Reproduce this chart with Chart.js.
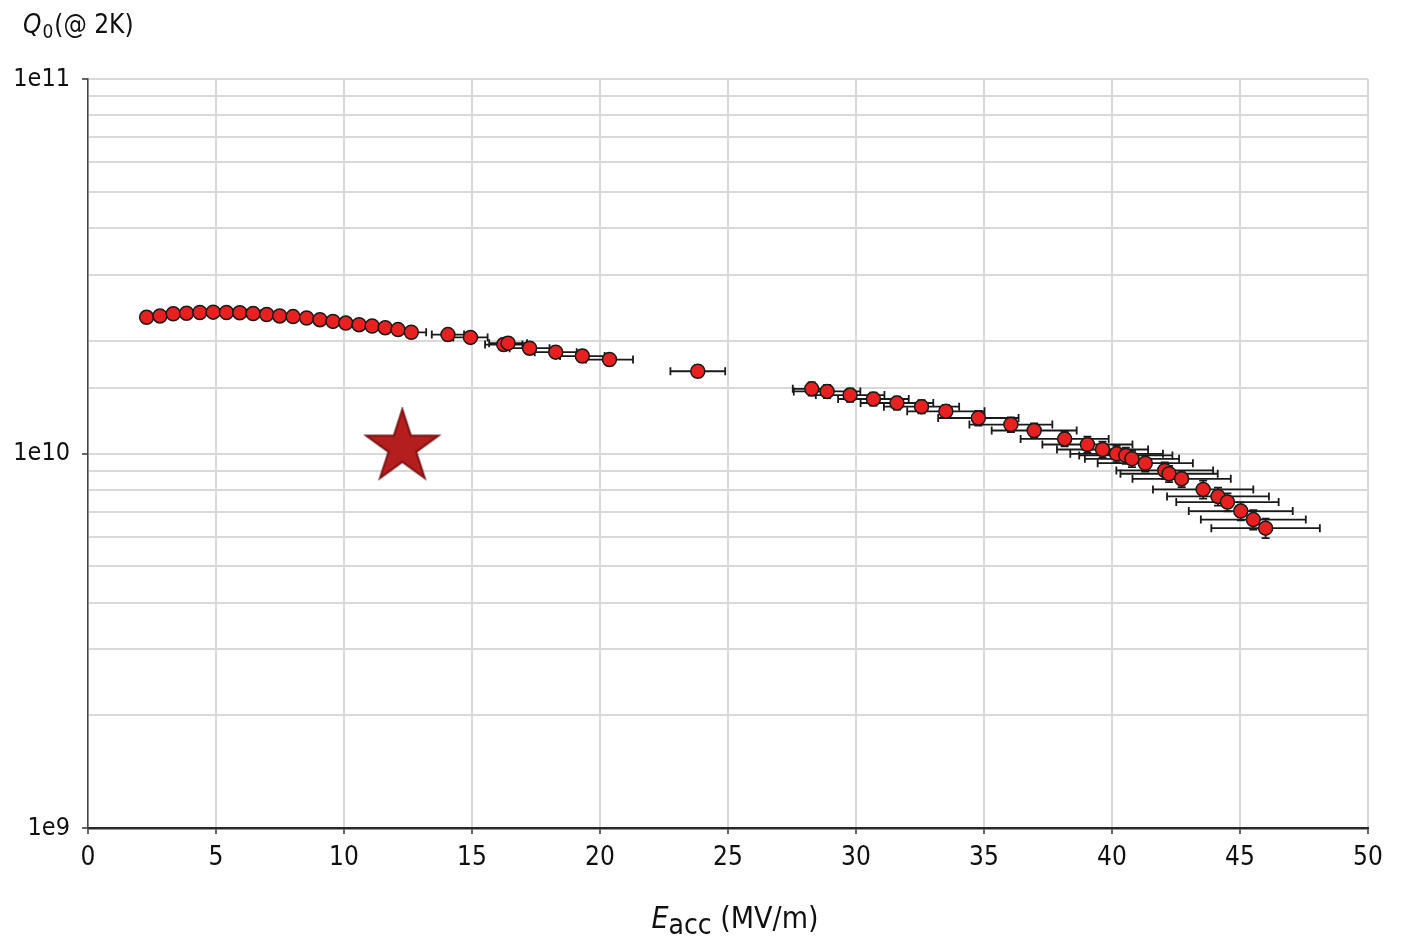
<!DOCTYPE html>
<html>
<head>
<meta charset="utf-8">
<title>Q0 vs Eacc</title>
<script src="https://cdn.jsdelivr.net/npm/chart.js@4.4.1/dist/chart.umd.min.js"></script>
<style>
    html, body { margin: 0; padding: 0; background: #ffffff; }
    #wrap { width: 1407px; height: 940px; }
</style>
</head>
<body>
<div id="wrap"><canvas id="q0-chart" width="1407" height="940"></canvas></div>
<script>
const FONT = "'Liberation Sans Narrow', 'DejaVu Sans Condensed', 'Open Sans', sans-serif";

// Accelerating gradient (MV/m)
const eacc = [
    2.29, 2.81, 3.33, 3.85, 4.37, 4.89, 5.41, 5.93, 6.45, 6.98, 7.49, 8.01, 8.54, 9.06, 9.57,
    10.07, 10.59, 11.10, 11.61, 12.11, 12.63,
    14.06, 14.94, 16.24, 16.41, 17.25, 18.27, 19.31, 20.37, 23.82,
    28.27, 28.87, 29.77, 30.68, 31.60, 32.56, 33.51, 34.78, 36.05, 36.96, 38.15,
    39.04, 39.63, 40.18, 40.54, 40.78, 41.30, 42.06, 42.23, 42.72, 43.56, 44.14, 44.51, 45.03, 45.52, 46.00
];
// Quality factor at 2K
const q0 = [
    2.31e10, 2.33e10, 2.36e10, 2.37e10, 2.38e10, 2.385e10, 2.38e10, 2.377e10, 2.365e10, 2.35e10,
    2.33e10, 2.32e10, 2.30e10, 2.277e10, 2.253e10, 2.23e10, 2.208e10, 2.19e10, 2.168e10, 2.142e10, 2.107e10,
    2.077e10, 2.042e10, 1.954e10, 1.971e10, 1.911e10, 1.865e10, 1.82e10, 1.782e10, 1.658e10,
    1.488e10, 1.465e10, 1.432e10, 1.398e10, 1.364e10, 1.334e10, 1.296e10, 1.244e10, 1.195e10, 1.152e10, 1.094e10,
    1.057e10, 1.025e10, 9.98e9, 9.88e9, 9.68e9, 9.42e9, 9.01e9, 8.83e9, 8.56e9, 8.02e9, 7.68e9, 7.42e9,
    7.02e9, 6.66e9, 6.32e9
];
// Horizontal error (MV/m, +/-)
const eaccErr = [
    0.11, 0.13, 0.15, 0.17, 0.20, 0.22, 0.24, 0.27, 0.29, 0.31, 0.34, 0.36, 0.38, 0.41, 0.43,
    0.45, 0.48, 0.50, 0.52, 0.55, 0.58,
    0.63, 0.67, 0.73, 0.74, 0.78, 0.82, 0.87, 0.92, 1.07,
    0.74, 1.30, 1.34, 1.38, 1.42, 1.47, 1.51, 1.57, 1.62, 1.66, 1.72,
    1.76, 1.78, 1.81, 1.82, 1.84, 1.86, 1.89, 1.90, 1.92, 1.96, 1.99, 2.00, 2.03, 2.05, 2.12
];
// Vertical error, relative (+/-)
const q0ErrRel = [
    0.03, 0.03, 0.03, 0.03, 0.03, 0.03, 0.03, 0.03, 0.03, 0.03, 0.03, 0.03, 0.03, 0.03, 0.03,
    0.03, 0.03, 0.03, 0.03, 0.03, 0.03,
    0.035, 0.035, 0.035, 0.035, 0.035, 0.035, 0.035, 0.035, 0.035,
    0.04, 0.04, 0.04, 0.04, 0.04, 0.04, 0.04, 0.045, 0.045, 0.045, 0.045,
    0.05, 0.05, 0.05, 0.05, 0.05, 0.05, 0.05, 0.05, 0.05, 0.055, 0.055, 0.055, 0.055, 0.06, 0.06
];
// Single reference point (star)
const starEacc = [12.28];
const starQ0 = [1.038e10];

const xTickStep = 5;
const decadeLabels = { 9: "1e9", 10: "1e10", 11: "1e11" };

function isDecade(v) {
    const l = Math.log10(v);
    return Math.abs(l - Math.round(l)) < 1e-9;
}

// filled five-point star used as the point style
function makeStar(outer, inner, fill, stroke) {
    const size = Math.ceil(outer * 2 + 4);
    const cv = document.createElement("canvas");
    cv.width = size;
    cv.height = size;
    const g = cv.getContext("2d");
    const c = size / 2;
    g.beginPath();
    for (let k = 0; k < 10; k++) {
        const r = k % 2 === 0 ? outer : inner;
        const a = -Math.PI / 2 + (k * Math.PI) / 5;
        const px = c + r * Math.cos(a);
        const py = c + r * Math.sin(a);
        if (k === 0) g.moveTo(px, py); else g.lineTo(px, py);
    }
    g.closePath();
    g.fillStyle = fill;
    g.fill();
    g.lineWidth = 2;
    g.strokeStyle = stroke;
    g.stroke();
    return cv;
}

const errorBars = {
    id: "errorBars",
    beforeDatasetsDraw(chart) {
        const { ctx } = chart;
        const xs = chart.scales.x;
        const ys = chart.scales.y;
        const cap = 4;
        ctx.save();
        ctx.strokeStyle = "#1a1a1a";
        ctx.lineWidth = 1.8;
        eacc.forEach((e, i) => {
            const px = xs.getPixelForValue(e);
            const py = ys.getPixelForValue(q0[i]);
            const l = xs.getPixelForValue(e - eaccErr[i]);
            const r = xs.getPixelForValue(e + eaccErr[i]);
            const t = ys.getPixelForValue(q0[i] * (1 + q0ErrRel[i]));
            const b = ys.getPixelForValue(q0[i] * (1 - q0ErrRel[i]));
            ctx.beginPath();
            ctx.moveTo(l, py); ctx.lineTo(r, py);
            ctx.moveTo(l, py - cap); ctx.lineTo(l, py + cap);
            ctx.moveTo(r, py - cap); ctx.lineTo(r, py + cap);
            ctx.moveTo(px, t); ctx.lineTo(px, b);
            ctx.moveTo(px - cap, t); ctx.lineTo(px + cap, t);
            ctx.moveTo(px - cap, b); ctx.lineTo(px + cap, b);
            ctx.stroke();
        });
        ctx.restore();
    },
};

// axis titles with italic symbol and subscript
const axisTitles = {
    id: "axisTitles",
    afterDraw(chart) {
        const { ctx } = chart;
        ctx.save();
        ctx.fillStyle = "#111";
        ctx.textBaseline = "alphabetic";
        ctx.textAlign = "left";

        // y title: Q0(@ 2K)
        let x = 23;
        ctx.font = "italic 26px " + FONT;
        ctx.fillText("Q", x, 33);
        x += ctx.measureText("Q").width + 1;
        ctx.font = "19px " + FONT;
        ctx.fillText("0", x, 38);
        x += ctx.measureText("0").width + 1;
        ctx.font = "26px " + FONT;
        ctx.fillText("(@ 2K)", x, 33);

        // x title: Eacc (MV/m)
        const cx = 735;
        ctx.font = "italic 30px " + FONT;
        const wE = ctx.measureText("E").width;
        ctx.font = "28px " + FONT;
        const wSub = ctx.measureText("acc").width;
        ctx.font = "30px " + FONT;
        const wRest = ctx.measureText(" (MV/m)").width;
        x = cx - (wE + wSub + wRest) / 2;
        ctx.font = "italic 30px " + FONT;
        ctx.fillText("E", x, 928);
        x += wE;
        ctx.font = "28px " + FONT;
        ctx.fillText("acc", x, 934);
        x += wSub;
        ctx.font = "30px " + FONT;
        ctx.fillText(" (MV/m)", x, 928);
        ctx.restore();
    },
};

const chart = new Chart(document.getElementById("q0-chart"), {
    type: "scatter",
    data: {
        datasets: [
            {
                label: "Q0",
                data: eacc.map((e, i) => ({ x: e, y: q0[i] })),
                pointStyle: "circle",
                pointRadius: 7,
                pointHoverRadius: 7,
                backgroundColor: "#e8201f",
                borderColor: "#1a1a1a",
                borderWidth: 1.5,
            },
            {
                label: "reference",
                data: starEacc.map((e, i) => ({ x: e, y: starQ0[i] })),
                pointStyle: makeStar(38, 14.5, "#b41e1e", "#7d1212"),
                pointRadius: 38,
            },
        ],
    },
    options: {
        responsive: false,
        animation: false,
        devicePixelRatio: 1,
        layout: { padding: { top: 79, right: 38, left: 0, bottom: 0 } },
        plugins: {
            legend: { display: false },
            tooltip: { enabled: false },
        },
        scales: {
            x: {
                type: "linear",
                min: 0,
                max: 50,
                afterFit: (s) => { s.height = 112; },
                ticks: {
                    stepSize: xTickStep,
                    color: "#111",
                    font: { family: FONT, size: 26 },
                    padding: 9,
                },
                grid: {
                    color: "#d9d9d9",
                    lineWidth: 2,
                    tickLength: 6,
                    tickColor: "#333",
                    tickWidth: 1.5,
                },
                border: { color: "#2b2b2b", width: 2.5 },
            },
            y: {
                type: "logarithmic",
                min: 1e9,
                max: 1e11,
                afterFit: (s) => { s.width = 88; },
                ticks: {
                    autoSkip: false,
                    color: "#111",
                    font: { family: FONT, size: 25 },
                    padding: 12,
                    callback: (v) => (isDecade(v) ? decadeLabels[Math.round(Math.log10(v))] : ""),
                },
                grid: {
                    color: "#d9d9d9",
                    lineWidth: 2,
                    tickLength: 6,
                    tickWidth: 1.5,
                    tickColor: (c) => (c.tick && isDecade(c.tick.value) ? "#333" : "rgba(0,0,0,0)"),
                },
                border: { color: "#444", width: 1.5 },
            },
        },
    },
    plugins: [errorBars, axisTitles],
});
</script>
</body>
</html>
